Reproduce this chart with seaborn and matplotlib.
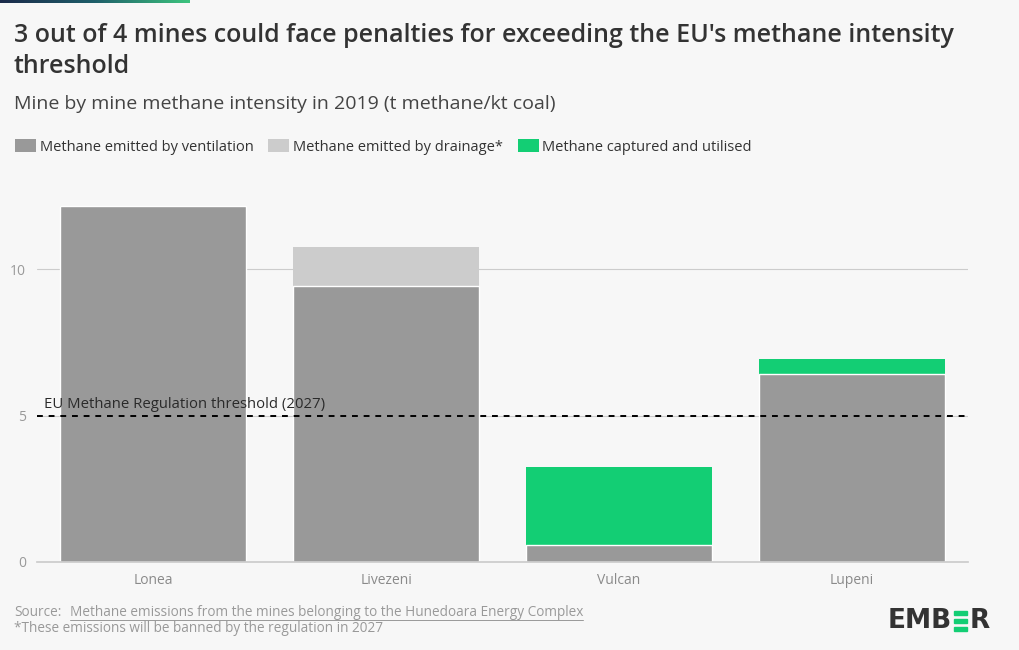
"""Mine by mine methane intensity, Hunedoara Energy Complex (2019)."""

import matplotlib.pyplot as plt
import numpy as np
import pandas as pd
import seaborn as sns
from matplotlib.patches import Patch

mines = ["Lonea", "Livezeni", "Vulcan", "Lupeni"]
ventilation = [12.15, 9.42, 0.58, 6.42]
drainage = [0.0, 1.33, 0.0, 0.0]
captured = [0.0, 0.0, 2.66, 0.51]
threshold = 5
yticks = [0, 5, 10]

series_names = ["Methane emitted by ventilation", "Methane emitted by drainage*",
                "Methane captured and utilised"]
colors = ["#999999", "#cccccc", "#13ce74"]
bg = "#f7f7f7"
W, H = 1020, 650

sns.set_theme(style="white")
plt.rcParams["font.family"] = ["Open Sans", "DejaVu Sans"]

# top segment per mine: drainage or captured, stacked on ventilation
top_kind = [series_names[1] if d > 0 else series_names[2] for d in drainage]
top = pd.DataFrame({
    "mine": mines,
    "total": np.array(ventilation) + np.array(drainage) + np.array(captured),
    "kind": top_kind,
})
base = pd.DataFrame({"mine": mines, "value": ventilation})

fig = plt.figure(figsize=(10.2, 6.5), dpi=100, facecolor=bg)
ax = fig.add_axes([37 / W, 0.1354, 931 / W, 0.5769])
ax.set_facecolor(bg)

sns.barplot(data=top, x="mine", y="total", hue="kind", order=mines,
            palette={series_names[1]: colors[1], series_names[2]: colors[2]},
            dodge=False, width=0.8, legend=False, ax=ax, linewidth=0, saturation=1)
sns.barplot(data=base, x="mine", y="value", order=mines, color=colors[0],
            width=0.8, ax=ax, linewidth=1, edgecolor="white", saturation=1)

ax.set_xlim(-0.5, 3.5)
ax.set_ylim(0, 12.8)
ax.set_yticks(yticks)
ax.yaxis.grid(True, color="#cccccc", linewidth=0.8)
ax.set_axisbelow(True)
sns.despine(ax=ax, left=True, top=True, right=True)
ax.spines["bottom"].set_color("#cccccc")
ax.tick_params(axis="y", length=0, colors="#999999", labelsize=10, pad=8)
ax.tick_params(axis="x", length=4, colors="#999999", labelsize=10, pad=4, width=0.8)
for lbl in ax.get_xticklabels():
    lbl.set_color("#8a8a8a")
ax.set_xlabel("")
ax.set_ylabel("")

ax.axhline(threshold, color="black", linestyle=(0, (3, 3)), linewidth=1.4, zorder=5)
ax.text(-0.47, threshold + 0.13, "EU Methane Regulation threshold (2027)",
        fontsize=10.7, color="#2a2a2a", va="bottom", ha="left", zorder=6)

# header gradient strip
grad = fig.add_axes([0, 1 - 3 / H, 190 / W, 3 / H])
grad.imshow(np.linspace(0, 1, 256).reshape(1, -1), aspect="auto",
            cmap=sns.blend_palette(["#1b2a4a", "#1f5f6a", "#3dc47e"], as_cmap=True))
grad.axis("off")

fig.text(14 / W, 1 - 23 / H,
         "3 out of 4 mines could face penalties for exceeding the EU's methane intensity\nthreshold",
         fontsize=18, fontweight="semibold", color="#333333", va="top", ha="left",
         linespacing=1.32)
fig.text(14 / W, 1 - 104 / H,
         "Mine by mine methane intensity in 2019 (t methane/kt coal)",
         fontsize=14, color="#444444", va="center", ha="left")

handles = [Patch(facecolor=c, edgecolor="none") for c in colors]
fig.legend(handles, series_names, loc="center left", bbox_to_anchor=(2 / W, 1 - 147 / H),
           ncol=3, frameon=False, fontsize=10.5, handlelength=1.45, handleheight=1.0,
           handletextpad=0.25, columnspacing=1.0, labelcolor="#333333")

renderer = fig.canvas.get_renderer()

fig.text(14 / W, 1 - 613 / H, "Source:", fontsize=9.8, color="#999999",
         va="center", ha="left")
link = fig.text(70 / W, 1 - 613 / H,
                "Methane emissions from the mines belonging to the Hunedoara Energy Complex",
                fontsize=9.8, color="#999999", va="center", ha="left")
bb = link.get_window_extent(renderer)
fig.add_artist(plt.Line2D([bb.x0 / W, bb.x1 / W], [(bb.y0 + 1) / H] * 2,
                          color="#999999", linewidth=0.7))
fig.text(14 / W, 1 - 628 / H, "*These emissions will be banned by the regulation in 2027",
         fontsize=9.8, color="#999999", va="center", ha="left")

# logo
logo_y = 1 - 621 / H
emb = fig.text(888 / W, logo_y, "EMB", fontsize=19, fontweight="bold", color="#333333",
               va="center", ha="left", family="DejaVu Sans")
eb = emb.get_window_extent(renderer)
bar_x = eb.x1 + 2
for dy in (-8, 0, 8):
    fig.add_artist(plt.Rectangle((bar_x / W, (1 - (621 + dy) / H) - 1.7 / H),
                                 13 / W, 3.8 / H, color="#13ce74", transform=fig.transFigure))
fig.text((bar_x + 15) / W, logo_y, "R", fontsize=19, fontweight="bold", color="#333333",
         va="center", ha="left", family="DejaVu Sans")

fig.savefig("out.png", dpi=100, facecolor=bg)
